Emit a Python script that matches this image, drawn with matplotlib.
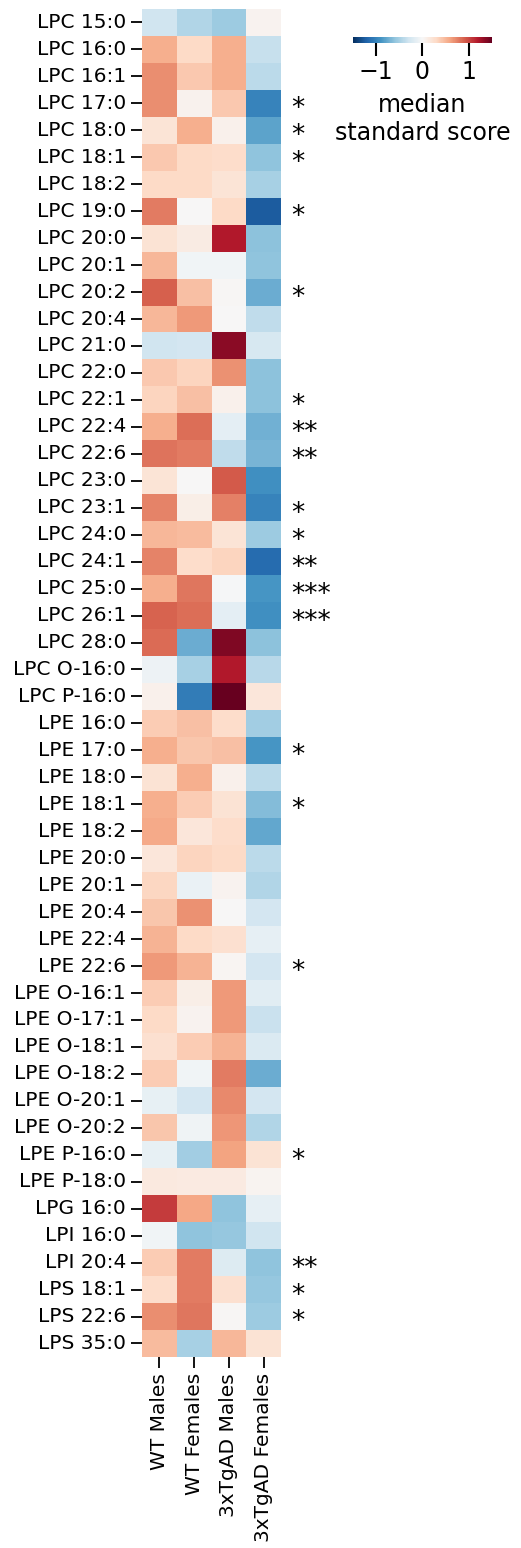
import numpy as np
import pandas as pd
import matplotlib
matplotlib.use("Agg")
import matplotlib.pyplot as plt
import seaborn as sns

# 1) data
lipids = ["LPC 15:0", "LPC 16:0", "LPC 16:1", "LPC 17:0", "LPC 18:0", "LPC 18:1",
          "LPC 18:2", "LPC 19:0", "LPC 20:0", "LPC 20:1", "LPC 20:2", "LPC 20:4",
          "LPC 21:0", "LPC 22:0", "LPC 22:1", "LPC 22:4", "LPC 22:6", "LPC 23:0",
          "LPC 23:1", "LPC 24:0", "LPC 24:1", "LPC 25:0", "LPC 26:1", "LPC 28:0",
          "LPC O-16:0", "LPC P-16:0",
          "LPE 16:0", "LPE 17:0", "LPE 18:0", "LPE 18:1", "LPE 18:2", "LPE 20:0",
          "LPE 20:1", "LPE 20:4", "LPE 22:4", "LPE 22:6", "LPE O-16:1", "LPE O-17:1",
          "LPE O-18:1", "LPE O-18:2", "LPE O-20:1", "LPE O-20:2", "LPE P-16:0",
          "LPE P-18:0",
          "LPG 16:0", "LPI 16:0", "LPI 20:4", "LPS 18:1", "LPS 22:6", "LPS 35:0"]
groups = ["WT Males", "WT Females", "3xTgAD Males", "3xTgAD Females"]

wt_males = [-0.30, 0.55, 0.70, 0.70, 0.20, 0.40, 0.30, 0.78, 0.22, 0.50,
            0.90, 0.50, -0.30, 0.40, 0.33, 0.55, 0.82, 0.20, 0.74, 0.50,
            0.74, 0.55, 0.88, 0.85, -0.08, 0.08,
            0.38, 0.55, 0.22, 0.55, 0.57, 0.18, 0.32, 0.42, 0.52, 0.65,
            0.38, 0.30, 0.24, 0.38, -0.12, 0.42, -0.12, 0.15,
            1.05, -0.05, 0.38, 0.27, 0.70, 0.48]
wt_females = [-0.45, 0.30, 0.40, 0.07, 0.55, 0.30, 0.30, 0.00, 0.12, -0.05,
              0.45, 0.65, -0.28, 0.33, 0.45, 0.84, 0.78, 0.00, 0.10, 0.47,
              0.28, 0.80, 0.84, -0.75, -0.50, -1.05,
              0.45, 0.42, 0.55, 0.38, 0.18, 0.33, -0.10, 0.68, 0.30, 0.52,
              0.10, 0.05, 0.38, -0.05, -0.27, -0.06, -0.52, 0.14,
              0.58, -0.60, 0.78, 0.78, 0.80, -0.50]
tg_males = [-0.55, 0.55, 0.55, 0.40, 0.08, 0.28, 0.20, 0.30, 1.20, -0.05,
            0.02, 0.00, 1.35, 0.68, 0.08, -0.15, -0.38, 0.92, 0.76, 0.20,
            0.33, -0.02, -0.15, 1.40, 1.20, 1.50,
            0.27, 0.45, 0.08, 0.22, 0.28, 0.30, 0.05, 0.00, 0.24, 0.03,
            0.65, 0.65, 0.52, 0.78, 0.72, 0.66, 0.60, 0.14,
            -0.60, -0.58, -0.20, 0.24, 0.02, 0.50]
tg_females = [0.05, -0.35, -0.40, -1.00, -0.80, -0.60, -0.50, -1.25, -0.62, -0.60,
              -0.75, -0.38, -0.25, -0.62, -0.62, -0.72, -0.70, -0.92, -1.00, -0.55,
              -1.15, -0.88, -0.92, -0.62, -0.42, 0.18,
              -0.52, -0.88, -0.40, -0.65, -0.78, -0.40, -0.45, -0.28, -0.13, -0.28,
              -0.17, -0.33, -0.22, -0.75, -0.28, -0.45, 0.22, 0.04,
              -0.13, -0.30, -0.60, -0.58, -0.55, 0.22]
stars = ["", "", "", "*", "*", "*", "", "*", "", "",
         "*", "", "", "", "*", "**", "**", "", "*", "*",
         "**", "***", "***", "", "", "",
         "", "*", "", "*", "", "", "", "", "", "*",
         "", "", "", "", "", "", "*", "",
         "", "", "**", "*", "*", ""]

DF = pd.DataFrame({groups[0]: wt_males, groups[1]: wt_females,
                   groups[2]: tg_males, groups[3]: tg_females}, index=lipids)

# 2) figure
fig = plt.figure(figsize=(5.21, 15.48), dpi=100)
ax = fig.add_axes([0.2726, 0.1234, 0.2668, 0.8708])
cax = fig.add_axes([0.6775, 0.9722, 0.2668, 0.0040])

sns.heatmap(DF, ax=ax, cbar_ax=cax, cmap="RdBu_r", vmin=-1.5, vmax=1.5,
            cbar_kws={"orientation": "horizontal", "ticks": [-1, 0, 1]},
            yticklabels=True, xticklabels=True)
ax.tick_params(axis="both", labelsize=14.5, length=8, width=1.3)
ax.set_xticklabels(groups, rotation=90)
ax.set_yticklabels(lipids, rotation=0)
ax.set_xlabel("")
ax.set_ylabel("")

# significance marks, nudged down so the glyph sits on the row centre
for i, s in enumerate(stars):
    if s:
        ax.text(4.28, i + 0.5 + 0.22, s, fontsize=19, ha="left", va="center")

cax.tick_params(labelsize=17, length=9, width=1.5)
cax.set_xlabel("median\nstandard score", fontsize=17, labelpad=6)

fig.savefig("out.png", dpi=100)
